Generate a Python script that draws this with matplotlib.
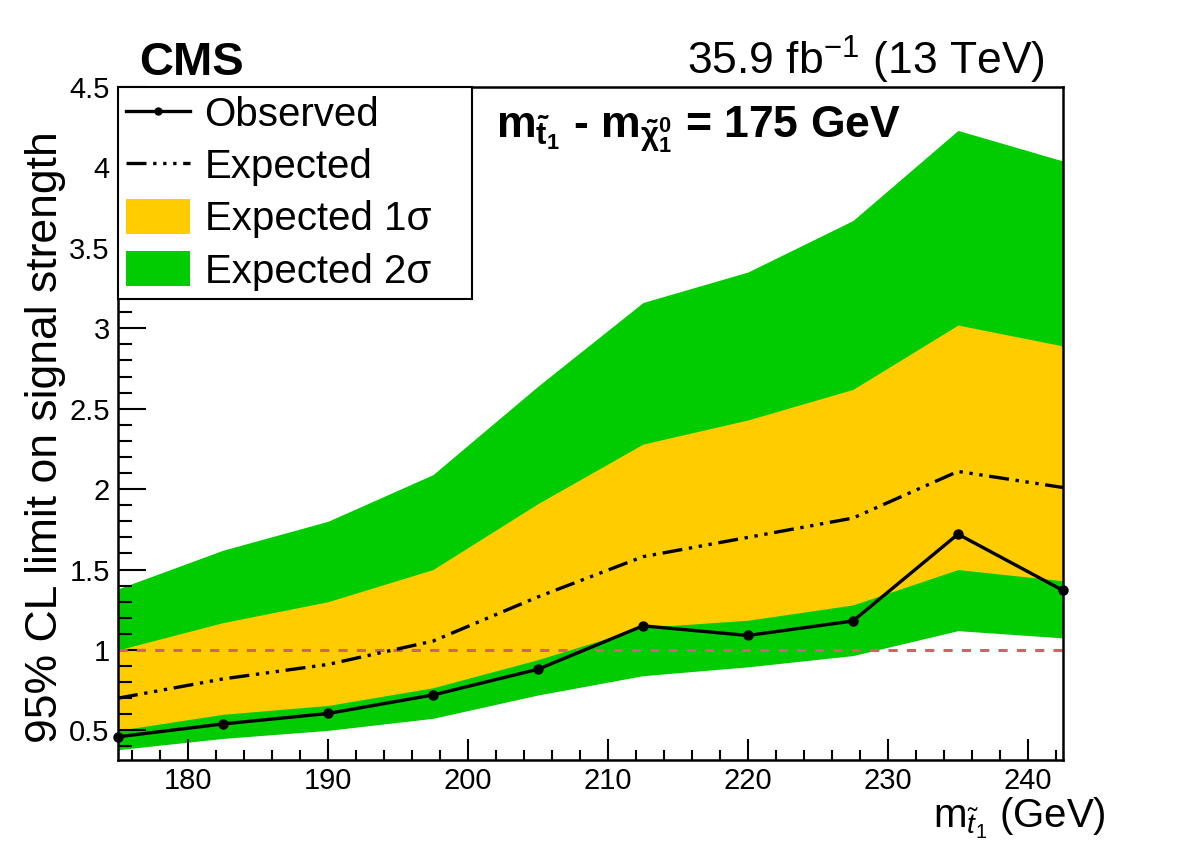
import matplotlib
matplotlib.use("Agg")
import matplotlib.pyplot as plt
from matplotlib.lines import Line2D
from matplotlib.patches import Patch
from matplotlib.ticker import MultipleLocator

plt.rcParams['font.family'] = ['Liberation Sans', 'DejaVu Sans']
plt.rcParams['mathtext.fontset'] = 'custom'
plt.rcParams['mathtext.rm'] = 'Liberation Sans'
plt.rcParams['mathtext.it'] = 'Liberation Sans:italic'
plt.rcParams['mathtext.bf'] = 'Liberation Sans:bold'

# stop mass points (GeV)
mstop = [175, 182.5, 190, 197.5, 205, 212.5, 220, 227.5, 235, 242.5]
observed = [0.46, 0.54, 0.605, 0.72, 0.88, 1.15, 1.09, 1.18, 1.72, 1.37]
expected = [0.70, 0.82, 0.91, 1.055, 1.33, 1.58, 1.70, 1.82, 2.11, 2.01]
exp_1s_up = [1.00, 1.17, 1.30, 1.50, 1.91, 2.28, 2.43, 2.62, 3.02, 2.89]
exp_1s_dn = [0.50, 0.60, 0.655, 0.765, 0.94, 1.14, 1.185, 1.28, 1.50, 1.43]
exp_2s_up = [1.38, 1.62, 1.80, 2.09, 2.64, 3.16, 3.35, 3.67, 4.23, 4.04]
exp_2s_dn = [0.38, 0.45, 0.50, 0.575, 0.72, 0.84, 0.895, 0.965, 1.12, 1.075]

green = '#00cc00'
yellow = '#ffcc00'
exp_style = (0, (6, 2, 1, 2, 1, 2, 1, 2))

fig = plt.figure(figsize=(11.82, 8.48), dpi=100)
ax = fig.add_axes([0.0998, 0.1038, 0.7995, 0.7936])

ax.fill_between(mstop, exp_2s_dn, exp_2s_up, color=green, lw=0)
ax.fill_between(mstop, exp_1s_dn, exp_1s_up, color=yellow, lw=0)
ax.axhline(1.0, color='#cc6666', ls=(0, (3, 3)), lw=2.2)
ax.plot(mstop, expected, color='black', lw=2.4, ls=exp_style)
ax.plot(mstop, observed, color='black', lw=2.4, marker='o', ms=6.5, clip_on=False, zorder=5)

ax.set_xlim(175, 242.5)
ax.set_ylim(0.316, 4.5)

ax.xaxis.set_major_locator(MultipleLocator(10))
ax.xaxis.set_minor_locator(MultipleLocator(2))
ax.yaxis.set_major_locator(MultipleLocator(0.5))
ax.yaxis.set_minor_locator(MultipleLocator(0.1))
ax.tick_params(which='both', direction='in', labelsize=21, width=1.5)
ax.tick_params(which='major', axis='y', length=20)
ax.tick_params(which='minor', axis='y', length=10)
ax.tick_params(which='major', axis='x', length=15)
ax.tick_params(which='minor', axis='x', length=7)
ax.tick_params(axis='x', pad=5)
ax.tick_params(axis='y', pad=6)
ax.set_yticks([0.5, 1, 1.5, 2, 2.5, 3, 3.5, 4, 4.5])
ax.set_yticklabels(['0.5', '1', '1.5', '2', '2.5', '3', '3.5', '4', '4.5'])
for s in ax.spines.values():
    s.set_linewidth(1.8)

ax.set_ylabel('95% CL limit on signal strength', fontsize=32)
ax.yaxis.set_label_coords(-0.055, 0.48)
ax.text(1.045, -0.101, r'm$_{\tilde{t}_1}$ (GeV)', transform=ax.transAxes,
        fontsize=29, ha='right', va='baseline')

fig.text(0.118, 0.912, 'CMS', fontsize=34, fontweight='bold', ha='left', va='baseline')
fig.text(0.884, 0.912, r'35.9 fb$^{-1}$ (13 TeV)', fontsize=32, ha='right', va='baseline')
ax.text(0.400, 0.936, r'$\mathbf{m_{\tilde{t}_1}}$ - $\mathbf{m_{\tilde{\chi}^0_1}}$ = 175 GeV',
        transform=ax.transAxes, fontsize=32, fontweight='bold', ha='left', va='center')

handles = [
    Line2D([], [], color='black', lw=2.4, marker='o', ms=5),
    Line2D([], [], color='black', lw=2.4, ls=exp_style),
    Patch(facecolor=yellow, edgecolor='none'),
    Patch(facecolor=green, edgecolor='none'),
]
labels = ['Observed', 'Expected', 'Expected 1σ', 'Expected 2σ']
leg = ax.legend(handles, labels, loc='upper left', bbox_to_anchor=(0, 1, 0.375, 0),
                mode='expand', fontsize=29, frameon=True, fancybox=False,
                edgecolor='black', framealpha=1, borderaxespad=0,
                handlelength=1.6, handleheight=0.95, labelspacing=0.32,
                handletextpad=0.35, borderpad=0.2)
leg.get_frame().set_linewidth(1.5)

fig.savefig('out.png', dpi=100)
